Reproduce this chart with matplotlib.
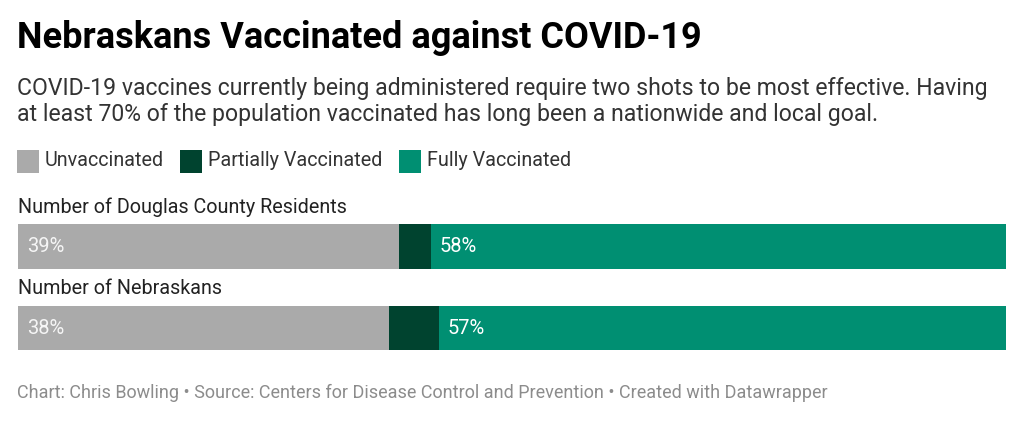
import matplotlib
matplotlib.use("Agg")
from matplotlib import pyplot as plt
from matplotlib.patches import Rectangle

# data (percent of population)
groups = ['Number of Douglas County Residents', 'Number of Nebraskans']
unvaccinated = [38.6, 37.6]
partially = [3.2, 5.0]
fully = [58.2, 57.4]
series_names = ['Unvaccinated', 'Partially Vaccinated', 'Fully Vaccinated']
colors = ['#aaaaaa', '#00432f', '#008f72']

W, H = 1024, 421
plt.rcParams['font.family'] = ['Roboto', 'DejaVu Sans']

def fx(px):
    return px / W

def fy(py):
    return 1 - py / H

fig = plt.figure(figsize=(W / 100, H / 100), dpi=100)

fig.text(fx(17), fy(38), 'Nebraskans Vaccinated against COVID-19', fontsize=26,
         fontweight='bold', color='#000000', va='center', ha='left')
fig.text(fx(17), fy(88), 'COVID-19 vaccines currently being administered require two shots to be most effective. Having',
         fontsize=16.6, color='#333333', va='center', ha='left')
fig.text(fx(17), fy(115), 'at least 70% of the population vaccinated has long been a nationwide and local goal.',
         fontsize=16.6, color='#333333', va='center', ha='left')

# legend
leg_x = [17, 180, 399]
for x0, name, c in zip(leg_x, series_names, colors):
    fig.patches.append(Rectangle((fx(x0), fy(173)), 22 / W, 23 / H, transform=fig.transFigure,
                                 facecolor=c, edgecolor='none'))
    fig.text(fx(x0 + 28), fy(161), name, fontsize=14.2, color='#333333', va='center', ha='left')

# bars
ax = fig.add_axes([fx(18), fy(350), (1006 - 18) / W, (350 - 224) / H])
ypos = [0, 1]
h = 0.55
left = [0, 0]
for vals, c in zip([unvaccinated, partially, fully], colors):
    ax.barh(ypos, vals, left=left, height=h, color=c, edgecolor='none')
    left = [l + v for l, v in zip(left, vals)]
ax.set_xlim(0, sum([unvaccinated[0], partially[0], fully[0]]))
ax.set_ylim(1 + 21.5 / 82, -22.5 / 82)
ax.axis('off')

for i in ypos:
    ax.text(0.9, i, '{:.0f}%'.format(unvaccinated[i]), color='#f5f5f5', fontsize=14.5,
            va='center', ha='left')
    ax.text(unvaccinated[i] + partially[i] + 0.9, i, '{:.0f}%'.format(fully[i]), color='#ffffff',
            fontsize=14.5, va='center', ha='left')

fig.text(fx(18), fy(207), groups[0], fontsize=14.2, color='#222222', va='center', ha='left')
fig.text(fx(18), fy(288), groups[1], fontsize=14.2, color='#222222', va='center', ha='left')

fig.text(fx(17), fy(393), 'Chart: Chris Bowling \u2022 Source: Centers for Disease Control and Prevention \u2022 Created with Datawrapper',
         fontsize=13, color='#8c8c8c', va='center', ha='left')

fig.savefig('out.png', dpi=100, facecolor='white')
